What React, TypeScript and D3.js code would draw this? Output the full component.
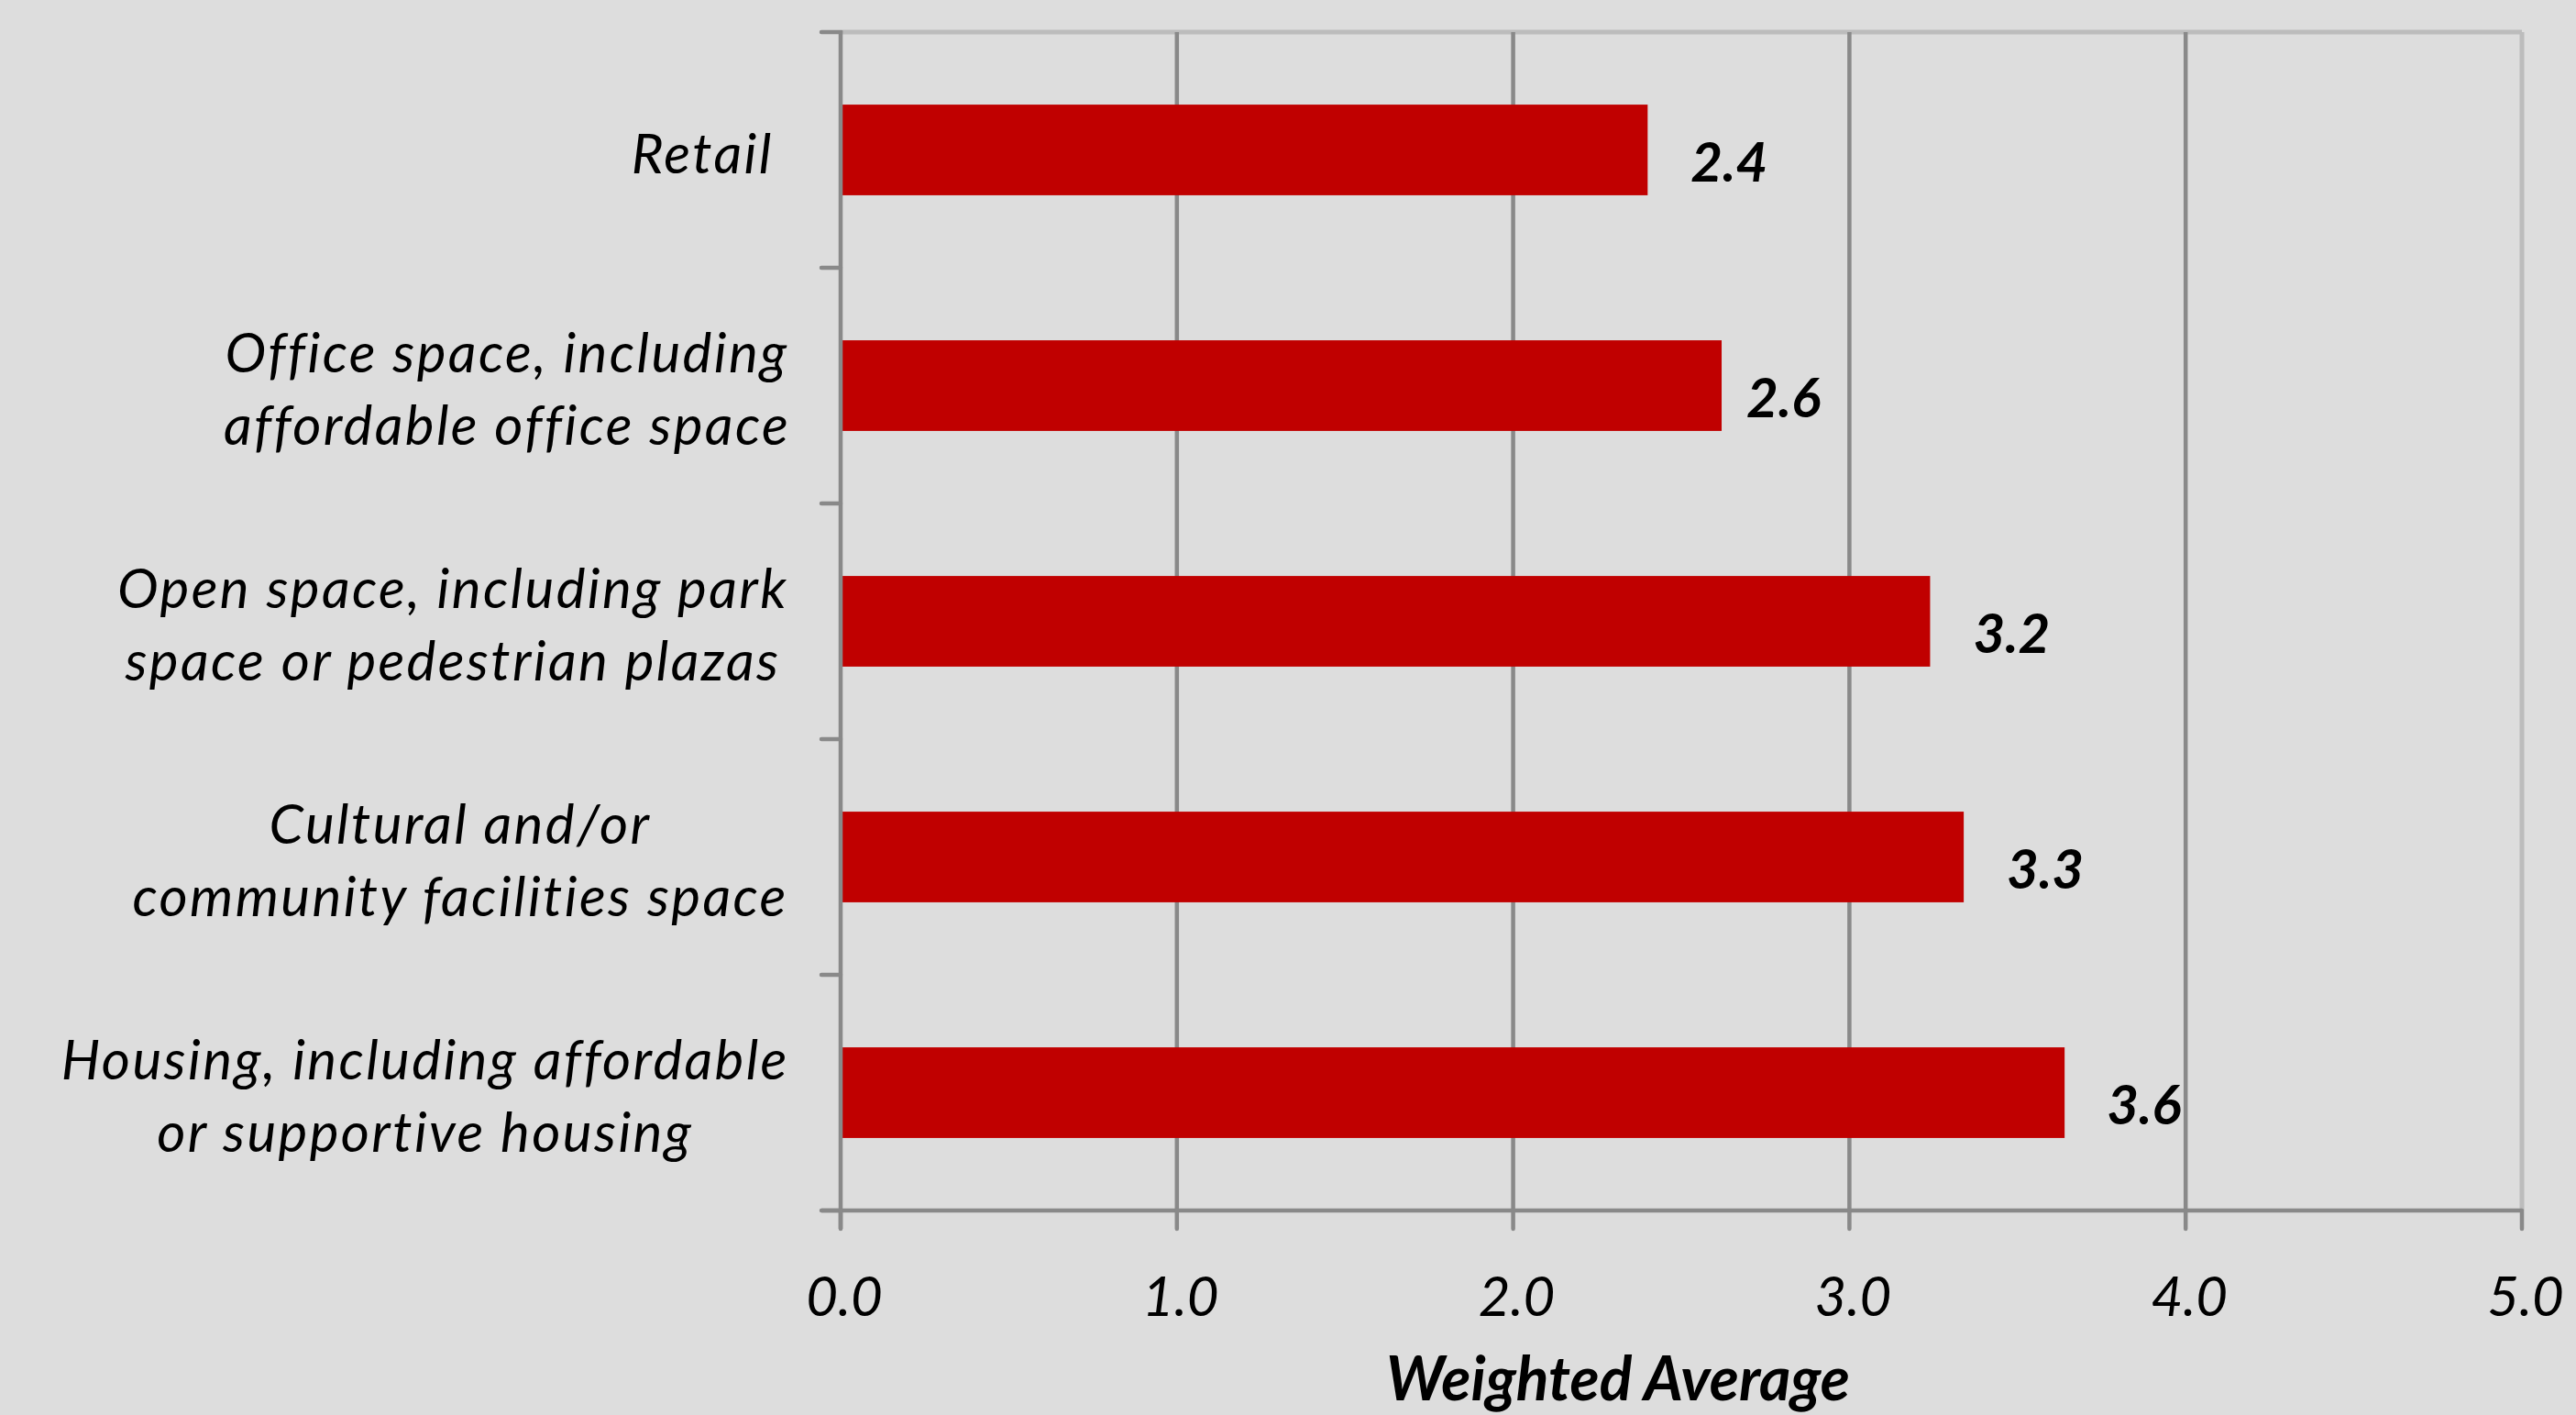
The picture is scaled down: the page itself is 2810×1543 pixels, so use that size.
import React, { useMemo } from "react";
import * as d3 from "d3";

const categories: string[][] = [
  ["Retail "],
  ["Office space, including", "affordable office space"],
  ["Open space, including park", "space or pedestrian plazas"],
  ["Cultural and/or", "community facilities space"],
  ["Housing, including affordable", "or supportive housing"],
];
const values: number[] = [2.4, 2.62, 3.24, 3.34, 3.64];
const valueLabels: string[] = ["2.4", "2.6", "3.2", "3.3", "3.6"];
const xTicks: number[] = [0, 1, 2, 3, 4, 5];
const xTitle = "Weighted Average";

// layout: horizontal nudge of each value label (px), as placed in the original
const labelDx: number[] = [47, 27, 47, 47, 46];

const W = 2810;
const H = 1543;
const left = 917;
const right = 2751;
const top = 35;
const bottom = 1320;
const FONT = "Lato, 'Open Sans', sans-serif";
const catFontSize = 60;
const catSpacing = 2.4;
const lineGap = 79;
const labelRight = 860;

function measure(text: string, font: string): number {
  const c = document.createElement("canvas");
  const ctx = c.getContext("2d")!;
  ctx.font = font;
  return ctx.measureText(text).width + catSpacing * text.length;
}

export default function App() {
  const x = d3.scaleLinear().domain([0, 5]).range([left, right]);
  const y = d3
    .scaleBand<number>()
    .domain(d3.range(categories.length))
    .range([top, bottom])
    .paddingInner(1.6 / 2.6)
    .paddingOuter(0.8 / 2.6);
  const step = y.step();
  const boundaries = d3.range(categories.length + 1).map((i) => top + i * step);

  const widths = useMemo(
    () =>
      categories.map((lines) =>
        Math.max(...lines.map((l) => measure(l, `italic ${catFontSize}px Lato`)))
      ),
    []
  );

  const axisColor = "#898989";
  const borderColor = "#bcbcbc";

  return (
    <svg
      width={W}
      height={H}
      style={{ position: "absolute", left: 0, top: 0, display: "block" }}
      fontFamily={FONT}
    >
      <rect x={0} y={0} width={W} height={H} fill="#dddddd" />
      {/* plot border top/right */}
      <line x1={left} x2={right} y1={top} y2={top} stroke={borderColor} strokeWidth={5} />
      <line x1={right} x2={right} y1={top} y2={bottom} stroke={borderColor} strokeWidth={5} />
      {/* gridlines */}
      {xTicks
        .filter((t) => t > 0 && t < 5)
        .map((t) => (
          <line key={"g" + t} x1={x(t)} x2={x(t)} y1={top} y2={bottom} stroke={axisColor} strokeWidth={4.5} />
        ))}
      {/* bars */}
      {values.map((v, i) => (
        <rect
          key={"b" + i}
          x={x(0)}
          y={y(i)!}
          width={x(v) - x(0)}
          height={y.bandwidth()}
          fill="#c00000"
        />
      ))}
      {/* value labels */}
      {values.map((v, i) => (
        <text
          key={"v" + i}
          x={x(v) + labelDx[i]}
          y={y(i)! + y.bandwidth() / 2 + 34}
          fontSize={60}
          fontWeight="bold"
          fontStyle="italic"
          fill="#000"
        >
          {valueLabels[i]}
        </text>
      ))}
      {/* left axis */}
      <line x1={left} x2={left} y1={top - 2} y2={bottom + 20} stroke={axisColor} strokeWidth={4.5} />
      {boundaries.map((b, i) => (
        <line key={"yt" + i} x1={left - 21} x2={left} y1={b} y2={b} stroke={axisColor} strokeWidth={4.5} strokeLinecap="round" />
      ))}
      {/* bottom axis */}
      <line x1={left - 21} x2={right} y1={bottom} y2={bottom} stroke={axisColor} strokeWidth={4.5} />
      {xTicks.map((t) => (
        <line key={"xt" + t} x1={x(t)} x2={x(t)} y1={bottom} y2={bottom + 20} stroke={axisColor} strokeWidth={4.5} strokeLinecap="round" />
      ))}
      {xTicks.map((t) => (
        <text
          key={"xl" + t}
          x={x(t) + 4}
          y={1435}
          textAnchor="middle"
          fontSize={60}
          fontStyle="italic"
          fill="#000"
        >
          {t.toFixed(1)}
        </text>
      ))}
      {/* category labels */}
      {categories.map((lines, i) => {
        const cx = labelRight - widths[i] / 2;
        const cy = y(i)! + y.bandwidth() / 2;
        return lines.map((l, j) => (
          <text
            key={"c" + i + "_" + j}
            x={cx}
            y={cy + (j - (lines.length - 1) / 2) * lineGap + 25}
            textAnchor="middle"
            fontSize={catFontSize}
            fontStyle="italic"
            letterSpacing={catSpacing}
            fill="#000"
            style={{ whiteSpace: "pre" }}
          >
            {l}
          </text>
        ));
      })}
      {/* axis title */}
      <text x={1765} y={1527} textAnchor="middle" fontSize={66} fontWeight="bold" fontStyle="italic" fill="#000">
        {xTitle}
      </text>
    </svg>
  );
}
